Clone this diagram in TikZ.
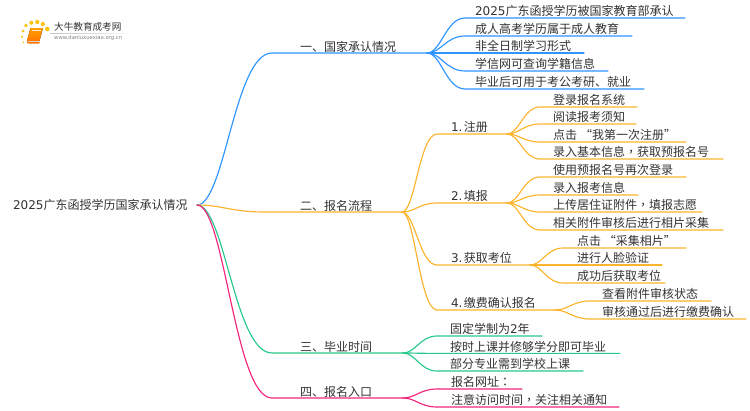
\documentclass[tikz,border=0pt]{standalone}
\usepackage{fontspec}
\setmainfont{DejaVu Sans}
\newfontfamily\cjk{Noto Sans CJK SC}
\newfontfamily\cjktc{Noto Sans CJK TC}
\usetikzlibrary{calc}
\definecolor{cblue}{HTML}{2F95FF}
\definecolor{corange}{HTML}{FBB42C}
\definecolor{cgreen}{HTML}{27C98A}
\definecolor{cpink}{HTML}{F5257F}
\definecolor{ctext}{HTML}{333333}
\newcommand{\lat}[1]{{\rmfamily #1}}
\newcommand{\cm}{{\cjktc ，}}
% [extra], name, line x0, line x1, line y, text x, text
\newcommand{\mnode}[7][]{%
  \pgfmathsetmacro{\tw}{#4-#3}\pgfmathsetmacro{\pd}{#6-#3}%
  \node[mind,#1,text width=\tw pt] (#2) at (#3,#5) {\hspace*{\pd pt}#7};}
% parent, child, colour
\newcommand{\conn}[3]{%
  \draw[#3,branch] let \p1=(#1),\p2=(#2.south west),\n1={\x2-\x1} in
    (\p1) .. controls ({\x1+0.37*\n1},\y1) and ({\x1+0.5*\n1},\y2) .. (\p2)
    -- (#2.south east);}
\tikzset{
  mind/.style={anchor=south west,inner sep=0pt,outer sep=0pt,text height=11.6pt,text depth=2.4pt,
    font=\fontsize{12}{12}\selectfont\cjk,text=ctext,align=left},
  topic/.style={text height=12.1pt,text depth=1.9pt},
  branch/.style={line width=1.15pt,line cap=round,line join=round},
}
\begin{document}
\begin{tikzpicture}[x=1pt,y=-1pt]
\useasboundingbox (0,0) rectangle (750,410);
\fill[white] (0,0) rectangle (750,410);
% logo
\fill[left color=black!22,right color=white,middle color=black!14] (50,33) rectangle (133,33.6);
\fill[top color=orange!75!yellow,bottom color=orange!95!red] (30.5,28) -- (43,28) -- (39.5,41) -- (27,41) -- cycle;
\fill[orange!90!red] (27,41) .. controls (26.5,43) and (27.5,43.6) .. (29,43.6) -- (39,43.6) -- (39.8,42) -- (28.5,42) -- cycle;
\draw[white!80!orange,line width=.5pt] (31.5,30) -- (40.5,30);
\foreach \dx/\dy/\dr in {23.3/42.3/0.9,22/36.7/1.1,23/31/1.5,26/25.5/1.8,31.3/22.8/2,37.3/22/2.1,42.8/24/2.1,47.3/29/2.3}
  \fill[yellow!55!orange] (\dx,\dy) circle (\dr);
\node[anchor=west,inner sep=0pt,font=\fontsize{9.6}{10}\selectfont\cjk,text=black!80] (brand) at (54,27) {大牛教育成考网};
\node[anchor=west,inner sep=0pt,font=\fontsize{5.3}{6}\selectfont,text=black!50] (url) at (54,38.5) {www.daniuxuexiao.org.cn};
% root
\node[anchor=west,inner sep=0pt,outer sep=0pt,text width=184pt,align=left,text height=10.1pt,text depth=1.9pt,
  font=\fontsize{12}{12}\selectfont\cjk,text=ctext] (root) at (13,205) {\lat{2025}广东函授学历国家承认情况};
% level 1
\mnode[topic]{a}{272}{427}{53}{300}{一、国家承认情况}
\mnode[topic]{b}{265}{402}{212}{300}{二、报名流程}
\mnode[topic]{c}{272}{403}{353}{300}{三、毕业时间}
\mnode[topic]{d}{272}{403}{398}{300}{四、报名入口}
% blue
\mnode{a1}{465}{685}{18}{475}{\lat{2025}广东函授学历被国家教育部承认}
\mnode{a2}{465}{632}{36}{475}{成人高考学历属于成人教育}
\mnode{a3}{465}{584}{53}{475}{非全日制学习形式}
\mnode{a4}{465}{608}{71}{475}{学信网可查询学籍信息}
\mnode{a5}{465}{644}{89}{475}{毕业后可用于考公考研、就业}
% orange second level
\mnode{b1}{437}{507}{134}{451}{\lat{1.}\kern1.5pt注册}
\mnode{b2}{437}{507}{203}{451}{\lat{2.}\kern1.5pt填报}
\mnode{b3}{437}{530}{265}{451}{\lat{3.}\kern1.5pt获取考位}
\mnode{b4}{437}{555}{310}{451}{\lat{4.}\kern1.5pt缴费确认报名}
% orange third level
\mnode{b11}{540}{637}{107}{553}{登录报名系统}
\mnode{b12}{540}{636}{124}{553}{阅读报考须知}
\mnode{b13}{540}{686}{142}{553}{点击\kern3pt“我第一次注册”}
\mnode{b14}{540}{723}{159}{553}{录入基本信息\cm 获取预报名号}
\mnode{b21}{540}{686}{177}{553}{使用预报名号再次登录}
\mnode{b22}{540}{638}{195}{553}{录入报考信息}
\mnode{b23}{540}{702}{212}{553}{上传居住证附件\cm 填报志愿}
\mnode{b24}{540}{723}{230}{553}{相关附件审核后进行相片采集}
\mnode{b31}{563}{686}{248}{577}{点击\kern3pt“采集相片”}
\mnode{b32}{563}{662}{265}{577}{进行人脸验证}
\mnode{b33}{563}{665}{283}{577}{成功后获取考位}
\mnode{b41}{590}{711}{301}{602}{查看附件审核状态}
\mnode{b42}{590}{746}{319}{602}{审核通过后进行缴费确认}
% green
\mnode{c1}{437}{542}{336}{450}{固定学制为\lat{2}年}
\mnode{c2}{437}{620}{353.4}{450}{按时上课并修够学分即可毕业}
\mnode{c3}{437}{583}{371}{450}{部分专业需到学校上课}
% pink
\mnode{d1}{437}{522}{389}{451}{报名网址{\cjktc ：}}
\mnode{d2}{437}{619}{407}{451}{注意访问时间\cm 关注相关通知}
% connectors
\conn{root.east}{a}{cblue}
\conn{root.east}{b}{corange}
\conn{root.east}{c}{cgreen}
\conn{root.east}{d}{cpink}
\foreach \k in {a1,a2,a3,a4,a5}{\conn{a.south east}{\k}{cblue}}
\foreach \k in {b1,b2,b3,b4}{\conn{b.south east}{\k}{corange}}
\foreach \k in {b11,b12,b13,b14}{\conn{b1.south east}{\k}{corange}}
\foreach \k in {b21,b22,b23,b24}{\conn{b2.south east}{\k}{corange}}
\foreach \k in {b31,b32,b33}{\conn{b3.south east}{\k}{corange}}
\foreach \k in {b41,b42}{\conn{b4.south east}{\k}{corange}}
\foreach \k in {c1,c2,c3}{\conn{c.south east}{\k}{cgreen}}
\foreach \k in {d1,d2}{\conn{d.south east}{\k}{cpink}}
\end{tikzpicture}
\end{document}
